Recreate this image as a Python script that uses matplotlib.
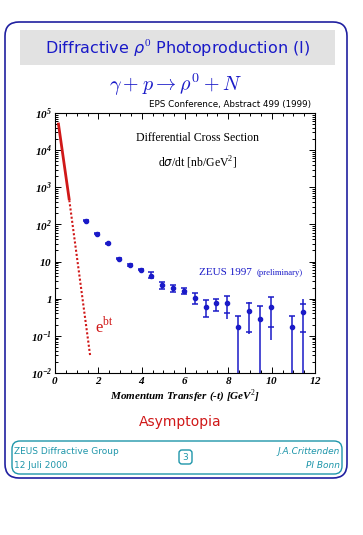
import matplotlib
matplotlib.use("Agg")
import matplotlib.pyplot as plt
from matplotlib.patches import FancyBboxPatch, Rectangle
from matplotlib.ticker import FixedLocator, FixedFormatter, MultipleLocator, LogLocator, NullFormatter

# ---------------------------------------------------------------- data
t_bins = [1.45, 1.95, 2.45, 2.95, 3.45, 3.95, 4.45, 4.95, 5.45, 5.95,
          6.45, 6.95, 7.45, 7.95, 8.45, 8.95, 9.45, 9.95, 10.95, 11.45]
dsig_dt = [125, 56, 31, 12, 8.2, 6.1, 4.2, 2.3, 1.95, 1.65,
           1.05, 0.60, 0.76, 0.76, 0.17, 0.47, 0.28, 0.59, 0.17, 0.44]
# total error band (lower / upper edge), 1e-3 = runs off the bottom
tot_lo = [120, 54, 30, 11.5, 7.8, 5.8, 3.7, 1.84, 1.52, 1.30,
          0.72, 0.32, 0.47, 0.28, 1e-3, 0.115, 1e-3, 0.076, 1e-3, 1e-3]
tot_hi = [130, 58, 32, 12.5, 8.6, 6.4, 5.1, 2.79, 2.41, 2.0,
          1.43, 0.91, 1.01, 1.17, 0.34, 0.82, 0.65, 1.08, 0.34, 0.97]
# positions of the little horizontal ticks (stat. errors)
stat_lo = [120, 54, 30, 11.5, 7.8, 5.8, 3.7, 1.84, 1.52, 1.30,
           0.72, 0.32, 0.47, 0.40, 1e-3, 0.126, 1e-3, 0.17, 1e-3, 0.124]
stat_hi = [130, 58, 32, 12.5, 8.6, 6.4, 5.1, 2.79, 2.41, 2.0,
           1.43, 0.91, 1.01, 1.17, 0.34, 0.79, 0.65, 1.08, 0.34, 0.74]

# exponential e^{bt} drawn as straight segments on the log scale
exp_solid_t = [0.15, 0.66]
exp_solid_y = [5.5e4, 450]
exp_dot_t = [0.66, 1.62]
exp_dot_y = [450, 0.03]

y_ticks = [1e-2, 1e-1, 1, 10, 1e2, 1e3, 1e4, 1e5]
y_labels = [r"$\mathbf{10}^{\mathbf{-2}}$", r"$\mathbf{10}^{\mathbf{-1}}$", r"$\mathbf{1}$",
            r"$\mathbf{10}$", r"$\mathbf{10}^{\mathbf{2}}$", r"$\mathbf{10}^{\mathbf{3}}$",
            r"$\mathbf{10}^{\mathbf{4}}$", r"$\mathbf{10}^{\mathbf{5}}$"]
x_ticks = [0, 2, 4, 6, 8, 10, 12]
x_labels = [r"$\mathbf{%d}$" % v for v in x_ticks]

BLUE = "#1a1ac8"
RED = "#d01818"
TEAL = "#1e96aa"

plt.rcParams["mathtext.fontset"] = "custom"
plt.rcParams["mathtext.bf"] = "Liberation Serif:italic:bold"
plt.rcParams["mathtext.rm"] = "Liberation Serif"

W, H = 363, 535
fig = plt.figure(figsize=(W / 100, H / 100), dpi=100)

# overlay in pixel coordinates for the slide decoration
bg = fig.add_axes([0, 0, 1, 1])
bg.set_xlim(0, W)
bg.set_ylim(H, 0)
bg.axis("off")

bg.add_patch(FancyBboxPatch((5, 22), 342, 456, boxstyle="round,pad=0,rounding_size=14",
                            fc="none", ec="#2020a0", lw=1.2))
bg.add_patch(Rectangle((20, 30), 315, 35, fc="#e2e2e2", ec="none"))
bg.text(178, 48, r"Diffractive $\rho^0$ Photoproduction (I)", color=BLUE, fontsize=11.5,
        ha="center", va="center", family="DejaVu Sans")
bg.text(176, 85, r"$\gamma + p \rightarrow \rho^0 + N$", color=BLUE, fontsize=14.5,
        ha="center", va="center", math_fontfamily="cm")
bg.text(311, 105, "EPS Conference, Abstract 499 (1999)", fontsize=6.3,
        ha="right", va="center", family="DejaVu Sans")

bg.text(185, 396, r"Momentum Transfer (-t) [GeV$^2$]", fontsize=8, ha="center", va="center",
        family="Liberation Serif", style="italic", weight="bold")
bg.text(180, 422, "Asymptopia", color=RED, fontsize=10, ha="center", va="center",
        family="DejaVu Sans")

# footer
bg.add_patch(FancyBboxPatch((12, 441), 330, 33, boxstyle="round,pad=0,rounding_size=8",
                            fc="none", ec=TEAL, lw=1.0))
bg.text(14, 451, "ZEUS Diffractive Group", color=TEAL, fontsize=6.5, ha="left", va="center")
bg.text(14, 465, "12 Juli 2000", color=TEAL, fontsize=6.5, ha="left", va="center")
bg.text(340, 451, "J.A.Crittenden", color=TEAL, fontsize=6.5, ha="right", va="center",
        style="italic")
bg.text(340, 465, "PI Bonn", color=TEAL, fontsize=6.5, ha="right", va="center",
        style="italic")
bg.add_patch(FancyBboxPatch((179, 450), 13, 14, boxstyle="round,pad=0,rounding_size=3",
                            fc="none", ec=TEAL, lw=1.0))
bg.text(185.5, 457.5, "3", color=TEAL, fontsize=6.5, ha="center", va="center")

# ---------------------------------------------------------------- main plot
ax = fig.add_axes([55 / W, 1 - 373 / H, 260 / W, 260 / H])
ax.set_yscale("log")
ax.set_xlim(0, 12)
ax.set_ylim(1e-2, 1e5)

ax.plot(exp_solid_t, exp_solid_y, color=RED, lw=2.0, solid_capstyle="butt")
ax.plot(exp_dot_t, exp_dot_y, color=RED, lw=1.5, ls=(0, (1, 1)))

ax.vlines(t_bins, tot_lo, tot_hi, color=BLUE, lw=1.1)
ax.plot(t_bins, stat_lo, ls="none", marker="_", ms=4.5, mew=1.1, color=BLUE)
ax.plot(t_bins, stat_hi, ls="none", marker="_", ms=4.5, mew=1.1, color=BLUE)
ax.plot(t_bins, dsig_dt, ls="none", marker="o", ms=3.0, color=BLUE)

ax.yaxis.set_major_locator(FixedLocator(y_ticks))
ax.yaxis.set_major_formatter(FixedFormatter(y_labels))
ax.yaxis.set_minor_locator(LogLocator(base=10, subs=range(2, 10), numticks=20))
ax.yaxis.set_minor_formatter(NullFormatter())
ax.xaxis.set_major_locator(FixedLocator(x_ticks))
ax.xaxis.set_major_formatter(FixedFormatter(x_labels))
ax.xaxis.set_minor_locator(MultipleLocator(0.5))
ax.tick_params(which="both", direction="in", top=True, right=True, labelsize=8, width=0.7)
ax.tick_params(which="major", length=4)
ax.tick_params(which="minor", length=2)
ax.tick_params(axis="y", pad=2)
ax.tick_params(axis="x", pad=1.5)
for s in ax.spines.values():
    s.set_linewidth(0.8)

ax.text(0.55, 0.905, "Differential Cross Section", transform=ax.transAxes, fontsize=8.5,
        ha="center", va="center", family="Liberation Serif")
ax.text(0.55, 0.81, r"d$\sigma$/dt [nb/GeV$^2$]", transform=ax.transAxes, fontsize=8.5,
        ha="center", va="center", family="Liberation Serif")
ax.text(0.555, 0.385, "ZEUS 1997", transform=ax.transAxes, fontsize=8, color=BLUE,
        ha="left", va="center", family="Liberation Serif")
ax.text(0.775, 0.383, "(preliminary)", transform=ax.transAxes, fontsize=6.2, color=BLUE,
        ha="left", va="center", family="Liberation Serif")
ax.text(0.155, 0.18, r"e$^{\mathrm{bt}}$", transform=ax.transAxes, fontsize=12, color=RED,
        ha="left", va="center", family="Liberation Serif")

fig.savefig("out.png", dpi=100)
